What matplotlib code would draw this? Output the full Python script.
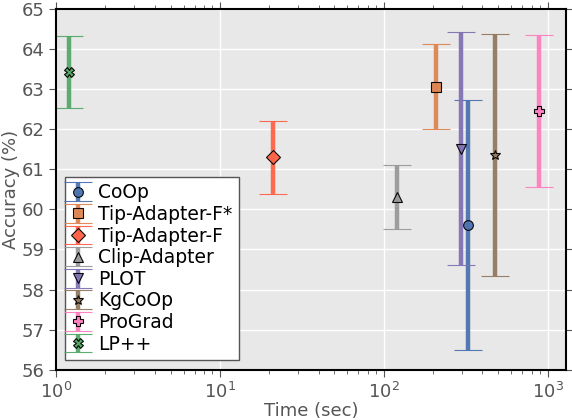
import matplotlib
matplotlib.use("Agg")
import matplotlib.pyplot as plt

methods = ["CoOp", "Tip-Adapter-F*", "Tip-Adapter-F", "Clip-Adapter",
           "PLOT", "KgCoOp", "ProGrad", "LP++"]
times = [328, 208, 21, 120, 298, 478, 890, 1.2]
acc = [59.62, 63.07, 61.30, 60.32, 61.51, 61.36, 62.46, 63.44]
err = [3.12, 1.05, 0.92, 0.80, 2.91, 3.03, 1.90, 0.90]
colors = ["#4c72b0", "#dd8452", "#ff6347", "#999999",
          "#8172b3", "#937860", "#ff7fc0", "#55a868"]
markers = ["o", "s", "D", "^", "v", "*", "P", "X"]

fig, ax = plt.subplots(figsize=(5.72, 4.2), dpi=100)
ax.set_facecolor("#e8e8e8")
ax.grid(True, color="white", linewidth=1.0)
ax.set_axisbelow(True)

for m, t, a, e, c, mk in zip(methods, times, acc, err, colors, markers):
    ax.errorbar(t, a, yerr=e, fmt=mk, color=c, ecolor=c, elinewidth=3.2,
                capsize=10, capthick=1.3, markersize=7,
                markeredgecolor="black", markeredgewidth=0.8,
                alpha=0.95, label=m)

ax.set_xscale("log")
ax.set_xlim(1, 1300)
ax.set_ylim(56, 65)
ax.set_xlabel("Time (sec)", fontsize=13, color="#555555", labelpad=0)
ax.set_ylabel("Accuracy (%)", fontsize=13, color="#555555", labelpad=1)
ax.tick_params(which="both", direction="out", top=True, right=True,
               color="#555555", labelcolor="#555555", labelsize=13)
ax.tick_params(which="major", length=5)
ax.tick_params(which="minor", length=3)
for s in ax.spines.values():
    s.set_color("black")
    s.set_linewidth(1.5)

leg = ax.legend(loc="lower left", fontsize=13.5, fancybox=False,
                framealpha=1, edgecolor="#555555", labelspacing=0.14,
                handlelength=0.6, handletextpad=0.8, borderpad=0.35)

fig.subplots_adjust(left=0.098, right=0.99, top=0.978, bottom=0.12)
fig.savefig("out.png")
